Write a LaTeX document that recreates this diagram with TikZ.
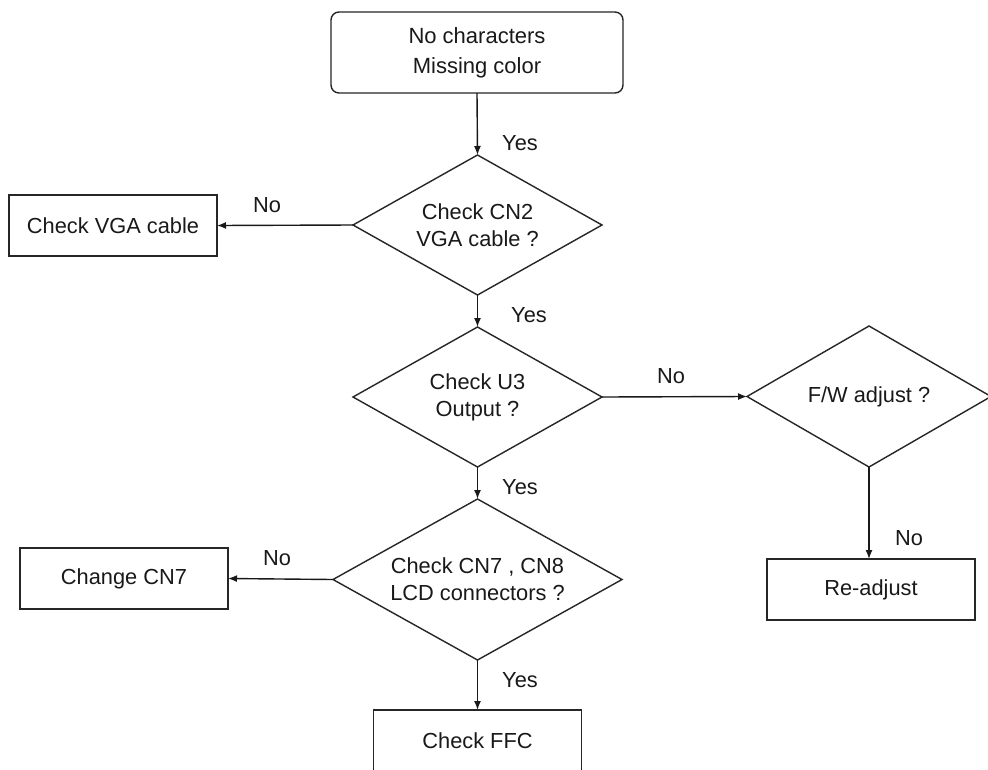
\documentclass[tikz,border=0pt]{standalone}
\usepackage{fontspec}
\setmainfont{Liberation Sans}
\usetikzlibrary{shapes.geometric,arrows.meta}
\begin{document}
\begin{tikzpicture}[x=1pt,y=-1pt,
  every node/.style={font=\fontsize{21.8}{27}\selectfont, text=black!90, inner sep=0pt, outer sep=0pt},
  startbox/.style={draw=black!85, line width=1.4pt, rounded corners=8pt, align=center, minimum width=292pt, minimum height=81pt, font=\fontsize{22}{30}\selectfont},
  box/.style={draw=black!85, line width=1.4pt, align=center, minimum width=208pt, minimum height=61pt},
  dec/.style={draw=black!85, line width=1.4pt, diamond, align=center, aspect=1.7},
  lbl/.style={anchor=center},
  conn/.style={draw=black!90, line width=1.4pt, -{Latex[length=9pt,width=7pt]}}
]
\useasboundingbox (0,0) rectangle (988,769);
\fill[white] (0,0) rectangle (988,769);

\node[startbox] (start) at (477,52.5) {No characters\\Missing color};
\node[dec, minimum width=249pt, minimum height=140pt] (d1) at (477.5,225) {Check CN2\\VGA cable ?};
\node[dec, minimum width=249pt, minimum height=140pt] (d2) at (477.5,397) {Check U3\\Output ?};
\node[dec, minimum width=244pt, minimum height=141pt] (d3) at (869,396.5) {F/W adjust ?};
\node[dec, minimum width=289pt, minimum height=161pt] (d4) at (477.5,579.5) {Check CN7 , CN8\\LCD connectors ?};

\node[box] (vga) at (113,225.5) {Check VGA cable};
\node[box] (cn7) at (124,578.5) {Change CN7};
\node[box] (readj) at (871,589.5) {Re-adjust};
\node[box] (ffc) at (477.5,740.5) {Check FFC};

\draw[conn] (start.south) -- (d1.north);
\draw[conn] (d1.west) -- (vga.east);
\draw[conn] (d1.south) -- (d2.north);
\draw[conn] (d2.east) -- (d3.west);
\draw[conn] (d3.south) -- (d3.south |- readj.north);
\draw[conn] (d2.south) -- (d4.north);
\draw[conn] (d4.west) -- (cn7.east);
\draw[conn] (d4.south) -- (ffc.north);

\node[lbl] (y1) at (520,143) {Yes};
\node[lbl] (n1) at (267,205) {No};
\node[lbl] (y2) at (529,315) {Yes};
\node[lbl] (n2) at (671,376) {No};
\node[lbl] (y3) at (520,487) {Yes};
\node[lbl] (n3) at (277,558) {No};
\node[lbl] (n4) at (909,538) {No};
\node[lbl] (y4) at (520,680) {Yes};
\end{tikzpicture}
\end{document}
